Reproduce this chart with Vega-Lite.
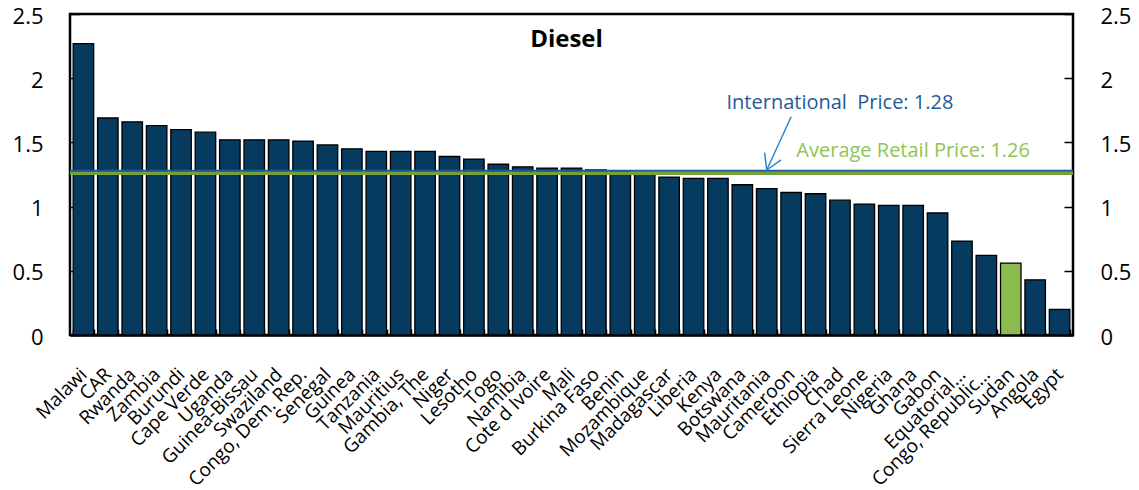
{
  "$schema": "https://vega.github.io/schema/vega-lite/v6.json",
  "autosize": {"type": "none"},
  "padding": {"left": 70, "top": 14, "right": 66, "bottom": 155},
  "width": 1003,
  "height": 321,
  "background": "white",
  "config": {
    "view": {"stroke": "black", "strokeWidth": 2.5},
    "font": "Open Sans"
  },
  "datasets": {
    "prices": [
      {"country": "Malawi", "price": 2.27},
      {"country": "CAR", "price": 1.69},
      {"country": "Rwanda", "price": 1.66},
      {"country": "Zambia", "price": 1.63},
      {"country": "Burundi", "price": 1.60},
      {"country": "Cape Verde", "price": 1.58},
      {"country": "Uganda", "price": 1.52},
      {"country": "Guinea-Bissau", "price": 1.52},
      {"country": "Swaziland", "price": 1.52},
      {"country": "Congo, Dem. Rep.", "price": 1.51},
      {"country": "Senegal", "price": 1.48},
      {"country": "Guinea", "price": 1.45},
      {"country": "Tanzania", "price": 1.43},
      {"country": "Mauritius", "price": 1.43},
      {"country": "Gambia, The", "price": 1.43},
      {"country": "Niger", "price": 1.39},
      {"country": "Lesotho", "price": 1.37},
      {"country": "Togo", "price": 1.33},
      {"country": "Namibia", "price": 1.31},
      {"country": "Cote d Ivoire", "price": 1.30},
      {"country": "Mali", "price": 1.30},
      {"country": "Burkina Faso", "price": 1.285},
      {"country": "Benin", "price": 1.27},
      {"country": "Mozambique", "price": 1.26},
      {"country": "Madagascar", "price": 1.23},
      {"country": "Liberia", "price": 1.22},
      {"country": "Kenya", "price": 1.22},
      {"country": "Botswana", "price": 1.17},
      {"country": "Mauritania", "price": 1.14},
      {"country": "Cameroon", "price": 1.11},
      {"country": "Ethiopia", "price": 1.10},
      {"country": "Chad", "price": 1.05},
      {"country": "Sierra Leone", "price": 1.02},
      {"country": "Nigeria", "price": 1.01},
      {"country": "Ghana", "price": 1.01},
      {"country": "Gabon", "price": 0.95},
      {"country": "Equatorial…", "price": 0.73},
      {"country": "Congo, Republic…", "price": 0.62},
      {"country": "Sudan", "price": 0.56},
      {"country": "Angola", "price": 0.43},
      {"country": "Egypt", "price": 0.20}
    ],
    "benchmarks": [
      {"name": "International", "price": 1.28},
      {"name": "Average Retail", "price": 1.26}
    ],
    "notes": [
      {"text": "International\u00a0 Price: 1.28", "country": "Chad", "price": 1.81, "kind": "International"},
      {"text": "Average Retail Price: 1.26", "country": "Ghana", "price": 1.43, "kind": "Average Retail"}
    ],
    "arrow": [
      {"country": "Cameroon", "price": 1.70, "tipCountry": "Mauritania", "tipPrice": 1.285}
    ]
  },
  "title": {
    "text": "Diesel",
    "anchor": "middle",
    "orient": "top",
    "offset": -47,
    "fontSize": 24,
    "fontWeight": "bold",
    "font": "Open Sans",
    "color": "black",
    "dx": -5
  },
  "layer": [
    {
      "data": {"name": "prices"},
      "mark": {"type": "bar", "stroke": "black", "strokeWidth": 1.3},
      "encoding": {
        "x": {
          "field": "country",
          "type": "nominal",
          "sort": null,
          "scale": {"paddingInner": 0.16, "paddingOuter": 0.13},
          "axis": {
            "title": null,
            "labelAngle": -45,
            "labelAlign": "right",
            "labelBaseline": "middle",
            "labelFontSize": 19,
            "labelFont": "Open Sans",
            "labelColor": "black",
            "labelPadding": 42,
            "labelLimit": 400,
            "tickSize": -6,
            "tickBand": "extent",
            "tickColor": "black",
            "tickWidth": 1.5,
            "domainColor": "black",
            "domainWidth": 2.5
          }
        },
        "y": {
          "field": "price",
          "type": "quantitative",
          "scale": {"domain": [0, 2.5], "nice": false},
          "axis": {
            "title": null,
            "orient": "left",
            "values": [0, 0.5, 1, 1.5, 2, 2.5],
            "format": "~g",
            "grid": false,
            "domain": false,
            "tickSize": -9,
            "tickColor": "black",
            "tickWidth": 1.5,
            "labelPadding": 36,
            "labelOffset": 2,
            "labelFontSize": 22,
            "labelFont": "Open Sans",
            "labelColor": "black"
          }
        },
        "color": {
          "condition": {"test": "datum.country === 'Sudan'", "value": "#8cbb4f"},
          "value": "#063a5f"
        }
      }
    },
    {
      "data": {"name": "benchmarks"},
      "mark": {"type": "rule"},
      "encoding": {
        "y": {
          "field": "price",
          "type": "quantitative",
          "axis": {
            "title": null,
            "orient": "right",
            "values": [0, 0.5, 1, 1.5, 2, 2.5],
            "format": "~g",
            "grid": false,
            "domain": false,
            "tickSize": -9,
            "tickColor": "black",
            "tickWidth": 1.5,
            "labelPadding": 36,
            "labelOffset": 2,
            "labelFontSize": 22,
            "labelFont": "Open Sans",
            "labelColor": "black"
          }
        },
        "color": {
          "field": "name",
          "type": "nominal",
          "scale": {"domain": ["International", "Average Retail"], "range": ["#1f5c99", "#77a03c"]},
          "legend": null
        },
        "strokeWidth": {
          "field": "name",
          "type": "nominal",
          "scale": {"domain": ["International", "Average Retail"], "range": [2, 3.5]},
          "legend": null
        },
        "order": {"field": "price", "sort": "ascending"}
      }
    },
    {
      "data": {"name": "arrow"},
      "mark": {"type": "rule", "color": "#2a86cc", "strokeWidth": 1.5},
      "encoding": {
        "x": {"field": "country", "type": "nominal", "sort": null},
        "y": {"field": "price", "type": "quantitative", "axis": null},
        "x2": {"field": "tipCountry"},
        "y2": {"field": "tipPrice"}
      }
    },
    {
      "data": {"name": "arrow"},
      "mark": {
        "type": "point",
        "shape": "M-0.6,-1L0,0L0.6,-1",
        "filled": false,
        "stroke": "#2a86cc",
        "strokeWidth": 1.5,
        "opacity": 1,
        "size": 900,
        "angle": 24
      },
      "encoding": {
        "x": {"field": "tipCountry", "type": "nominal", "sort": null},
        "y": {"field": "tipPrice", "type": "quantitative", "axis": null}
      }
    },
    {
      "data": {"name": "notes"},
      "mark": {"type": "text", "fontSize": 20, "font": "Open Sans", "align": "center", "baseline": "middle"},
      "encoding": {
        "x": {"field": "country", "type": "nominal", "sort": null},
        "y": {"field": "price", "type": "quantitative", "axis": null},
        "text": {"field": "text"},
        "dx": {
          "field": "kind",
          "type": "nominal",
          "scale": {"domain": ["International", "Average Retail"], "range": [-2, 11]},
          "legend": null
        },
        "color": {
          "field": "kind",
          "type": "nominal",
          "scale": {"domain": ["International", "Average Retail"], "range": ["#1f5a96", "#8fc457"]},
          "legend": null
        }
      }
    }
  ],
  "resolve": {"axis": {"y": "independent"}, "scale": {"color": "independent"}}
}
